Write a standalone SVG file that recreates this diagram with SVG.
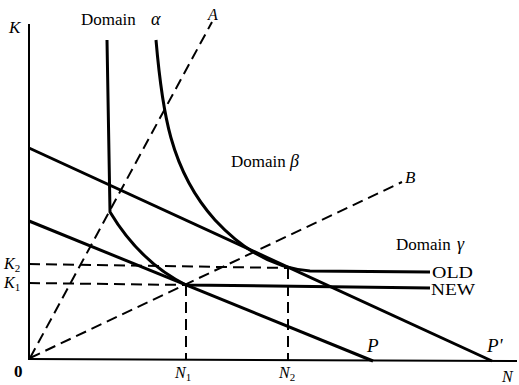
<svg xmlns="http://www.w3.org/2000/svg" width="519" height="385" viewBox="0 0 519 385">
<style>
.ax{stroke:#000;stroke-width:2;fill:none}
.thick{stroke:#000;stroke-width:3;fill:none;stroke-linejoin:round}
.dash{stroke:#000;stroke-width:2;fill:none;stroke-dasharray:11 6}
.t{font-family:"Liberation Serif","Times New Roman",serif;fill:#000}
.i{font-style:italic}
</style>
<rect width="519" height="385" fill="#fff"/>
<g id="axes">
<line class="ax" x1="29" y1="24" x2="29" y2="360"/>
<line class="ax" x1="28" y1="359" x2="517" y2="361"/>
</g>
<g id="connectors">
<line class="dash" x1="30" y1="358" x2="212" y2="22"/>
<line class="dash" x1="30" y1="358" x2="402" y2="182"/>
<line class="dash" x1="29" y1="283" x2="186" y2="285"/>
<line class="dash" x1="29" y1="264" x2="289" y2="268"/>
<line class="dash" x1="186" y1="285" x2="186" y2="360"/>
<line class="dash" x1="288" y1="268" x2="288" y2="361"/>
<line class="thick" x1="29" y1="148" x2="492" y2="361"/>
<line class="thick" x1="29" y1="221" x2="373" y2="361"/>
</g>
<g id="isoquant-new">
<path class="thick" d="M107,40 L110,212 Q140,262 186,285 L430,288"/>
</g>
<g id="isoquant-old">
<path class="thick" d="M156,40 C162,110 170,170 215,220 C240,247 270,268 310,271 L430,272"/>
</g>
<g id="labels">
<text class="t i" x="9" y="33" font-size="17">K</text>
<text class="t" x="81" y="25" font-size="17">Domain</text>
<text class="t i" x="151" y="25" font-size="18">α</text>
<text class="t i" x="208" y="20" font-size="16">A</text>
<text class="t" x="231" y="167" font-size="17">Domain</text>
<text class="t i" x="290" y="167" font-size="18">β</text>
<text class="t i" x="405" y="183" font-size="17">B</text>
<text class="t" x="396" y="250" font-size="17">Domain</text>
<text class="t i" x="457" y="250" font-size="18">γ</text>
<text class="t" x="432" y="278" font-size="16" textLength="41" lengthAdjust="spacingAndGlyphs">OLD</text>
<text class="t" x="431" y="295" font-size="16" textLength="44" lengthAdjust="spacingAndGlyphs">NEW</text>
<text class="t i" x="4" y="269" font-size="16">K<tspan font-size="11" font-style="normal" dy="3">2</tspan></text>
<text class="t i" x="4" y="288" font-size="16">K<tspan font-size="11" font-style="normal" dy="3">1</tspan></text>
<text class="t" x="14" y="377" font-size="17" font-weight="bold">0</text>
<text class="t i" x="175" y="378" font-size="16">N<tspan font-size="11" font-style="normal" dy="3">1</tspan></text>
<text class="t i" x="279" y="378" font-size="16">N<tspan font-size="11" font-style="normal" dy="3">2</tspan></text>
<text class="t i" x="367" y="352" font-size="19">P</text>
<text class="t i" x="487" y="352" font-size="19">P'</text>
<text class="t i" x="502" y="382" font-size="16">N</text>
</g>
</svg>
